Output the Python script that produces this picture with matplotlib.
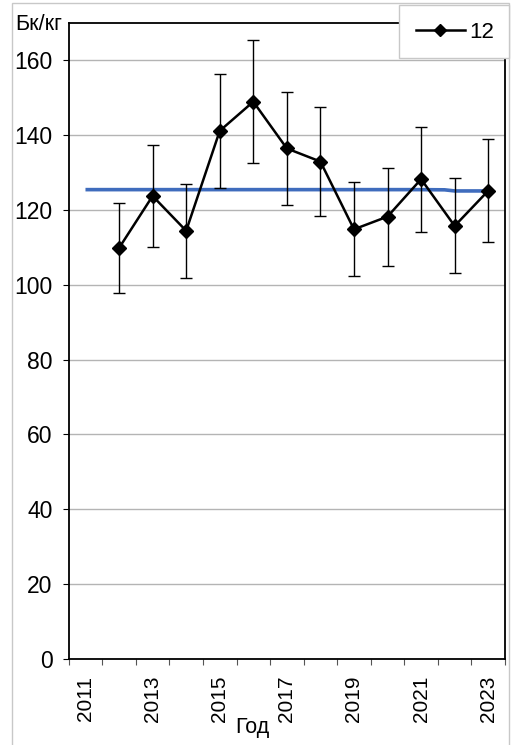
import matplotlib
matplotlib.use("Agg")
import matplotlib.pyplot as plt
from matplotlib.lines import Line2D
from matplotlib.patches import Rectangle
import numpy as np

plt.rcParams['font.family'] = ['Liberation Sans', 'DejaVu Sans']

# Annual mean activity, Bq/kg, with uncertainty
years = [2012, 2013, 2014, 2015, 2016, 2017, 2018, 2019, 2020, 2021, 2022, 2023]
values = [109.8, 123.7, 114.4, 141.1, 148.9, 136.4, 132.9, 114.8, 118.2, 128.2, 115.7, 125.1]
errors = [12.1, 13.6, 12.5, 15.3, 16.4, 15.1, 14.6, 12.6, 13.1, 14.0, 12.7, 13.7]

# Long-term level
mean_years = [2011, 2012, 2013, 2014, 2015, 2016, 2017, 2018, 2019, 2020, 2021, 2021.7, 2022, 2023]
mean_values = [125.4, 125.4, 125.4, 125.4, 125.4, 125.4, 125.4, 125.4, 125.4, 125.4, 125.4,
               125.35, 125.05, 125.05]

tick_years = [2011, 2013, 2015, 2017, 2019, 2021, 2023]
series_label = "12"
y_label = "Бк/кг"
x_label = "Год"

W, H = 512, 745
fig = plt.figure(figsize=(W / 100, H / 100), dpi=100)
ax = fig.add_axes([68.7 / W, (H - 659) / H, (505 - 68.7) / W, (659 - 22.7) / H])

ax.set_xlim(2010.5, 2023.5)
ax.set_ylim(0, 170)

ax.grid(axis='y', color='#b4b4b4', linewidth=1.0, zorder=0)
ax.set_axisbelow(True)

ax.plot(mean_years, mean_values, color='#3f6cbd', linewidth=2.6, zorder=2,
        solid_capstyle='butt')
ax.errorbar(years, values, yerr=errors, fmt='none', ecolor='black',
            elinewidth=1.0, capsize=4.5, capthick=1.0, zorder=3)
ax.plot(years, values, color='black', linewidth=1.8, marker='D',
        markersize=7, zorder=4)

ax.set_yticks(np.arange(0, 161, 20))
ax.tick_params(axis='y', labelsize=16.5, length=4.2, width=0.8, pad=7.5)

ax.set_xticks(tick_years)
ax.set_xticklabels([str(y) for y in tick_years], rotation=90)
ax.set_xticks(np.arange(2010.5, 2024, 1.0), minor=True)
ax.tick_params(axis='x', which='major', length=0, labelsize=15, pad=12)
ax.tick_params(axis='x', which='minor', length=4.5, width=0.8, color='#555555')

for s in ax.spines.values():
    s.set_linewidth(1.3)
    s.set_color('black')

fig.text(15 / W, 1 - 25 / H, y_label, fontsize=15.5, va='center', ha='left')
fig.text(252 / W, 1 - 727 / H, x_label, fontsize=15.5, va='center', ha='center')

# Outer chart border
fig.patches.append(Rectangle((12 / W, -0.01), (509 - 12) / W, 1.01 - 3 / H,
                             transform=fig.transFigure, fill=False,
                             edgecolor='#c8c8c8', linewidth=1.0, zorder=1))

# Legend box
fig.patches.append(Rectangle((399 / W, 1 - 58 / H), (509 - 399) / W, 53 / H,
                             transform=fig.transFigure, facecolor='white',
                             edgecolor='#c8c8c8', linewidth=1.0, zorder=4))
handle = Line2D([], [], color='black', linewidth=1.8, marker='D', markersize=6.5)
fig.legend([handle], [series_label], loc='center',
           bbox_to_anchor=(455 / W, 1 - 32 / H), frameon=False,
           fontsize=16, handlelength=2.2, handletextpad=0.2)

fig.savefig('out.png', dpi=100)
